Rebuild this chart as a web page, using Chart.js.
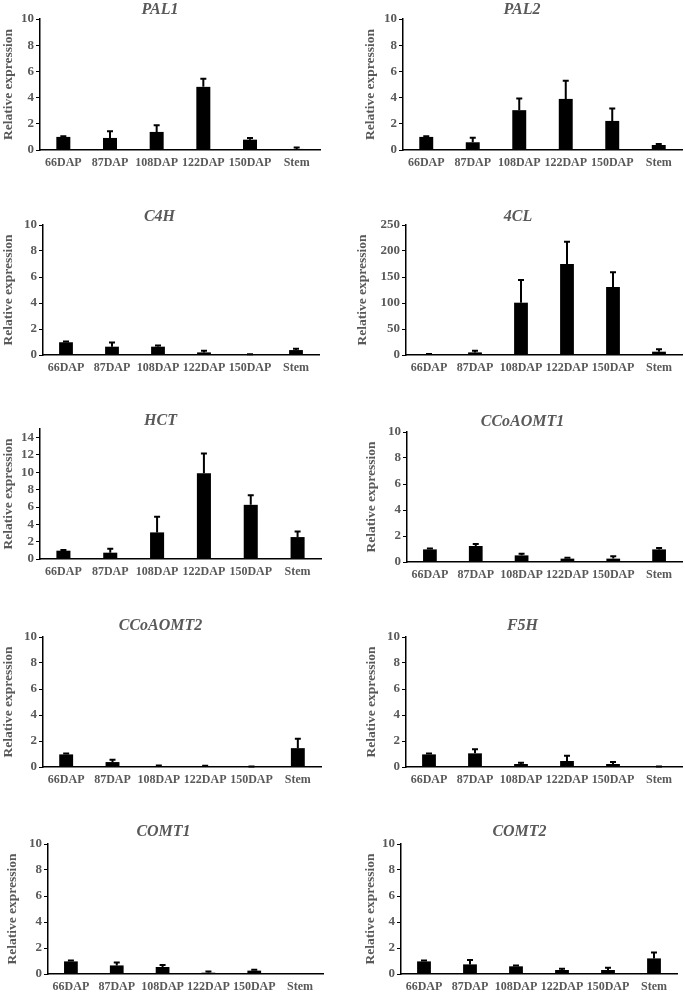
<!DOCTYPE html>
<html>
<head>
<meta charset="utf-8">
<script src="https://cdn.jsdelivr.net/npm/chart.js@4.4.1/dist/chart.umd.min.js"></script>
<style>
html, body { margin: 0; padding: 0; background: #fff; overflow: hidden; }
body { width: 685px; height: 994px; position: relative; }
canvas { position: absolute; }
</style>
</head>
<body>
<script>
// categories
const stages = ['66DAP', '87DAP', '108DAP', '122DAP', '150DAP', 'Stem'];

// means and SD (upper error bar) per gene
const pal1 = [1.0, 0.92, 1.38, 4.82, 0.79, 0.08];
const pal1Sd = [0.05, 0.51, 0.51, 0.61, 0.13, 0.12];
const pal2 = [1.0, 0.59, 3.04, 3.9, 2.22, 0.38];
const pal2Sd = [0.05, 0.35, 0.89, 1.38, 0.94, 0.08];
const c4h = [0.98, 0.64, 0.64, 0.2, 0.02, 0.38];
const c4hSd = [0.05, 0.33, 0.1, 0.13, 0.03, 0.11];
const cl4 = [1, 5, 100.6, 175, 131, 6.4];
const cl4Sd = [1, 3.3, 43.5, 43, 28, 4.6];
const hct = [0.96, 0.73, 3.07, 9.9, 6.25, 2.53];
const hctSd = [0.09, 0.46, 1.8, 2.26, 1.11, 0.65];
const ccoaomt1 = [0.97, 1.23, 0.51, 0.26, 0.26, 0.97];
const ccoaomt1Sd = [0.06, 0.15, 0.13, 0.07, 0.18, 0.11];
const ccoaomt2 = [0.97, 0.38, 0.05, 0.03, 0.01, 1.45];
const ccoaomt2Sd = [0.06, 0.18, 0.07, 0.07, 0.03, 0.72];
const f5h = [0.97, 1.05, 0.23, 0.46, 0.23, 0.02];
const f5hSd = [0.06, 0.31, 0.1, 0.41, 0.15, 0.02];
const comt1 = [0.97, 0.66, 0.54, 0.1, 0.26, 0];
const comt1Sd = [0.06, 0.23, 0.15, 0.1, 0.07, 0];
const comt2 = [0.97, 0.74, 0.59, 0.31, 0.31, 1.2];
const comt2Sd = [0.06, 0.33, 0.07, 0.1, 0.18, 0.46];

// y tick labels
const ticks10 = [0, 2, 4, 6, 8, 10];
const ticks250 = [0, 50, 100, 150, 200, 250];
const ticks14 = [0, 2, 4, 6, 8, 10, 12, 14];

const genes = [
    { name: 'PAL1', data: pal1, sd: pal1Sd, ticks: ticks10, max: 10 },
    { name: 'PAL2', data: pal2, sd: pal2Sd, ticks: ticks10, max: 10 },
    { name: 'C4H', data: c4h, sd: c4hSd, ticks: ticks10, max: 10 },
    { name: '4CL', data: cl4, sd: cl4Sd, ticks: ticks250, max: 250 },
    { name: 'HCT', data: hct, sd: hctSd, ticks: ticks14, max: 15 },
    { name: 'CCoAOMT1', data: ccoaomt1, sd: ccoaomt1Sd, ticks: ticks10, max: 10 },
    { name: 'CCoAOMT2', data: ccoaomt2, sd: ccoaomt2Sd, ticks: ticks10, max: 10 },
    { name: 'F5H', data: f5h, sd: f5hSd, ticks: ticks10, max: 10 },
    { name: 'COMT1', data: comt1, sd: comt1Sd, ticks: ticks10, max: 10 },
    { name: 'COMT2', data: comt2, sd: comt2Sd, ticks: ticks10, max: 10 }
];

// panel placement: y-axis x, plot top, zero line, plot right, title centre, y-axis box width
const panels = [
    { axisX: 40, top: 19, zero: 150, right: 320, titleY: 10, yw: 40 },
    { axisX: 403, top: 19, zero: 149.5, right: 682, titleY: 10, yw: 41 },
    { axisX: 43, top: 225, zero: 355, right: 319, titleY: 217, yw: 43 },
    { axisX: 406, top: 225, zero: 355, right: 682, titleY: 217, yw: 52 },
    { axisX: 40, top: 429, zero: 559, right: 321, titleY: 421, yw: 40 },
    { axisX: 407, top: 432, zero: 562, right: 682, titleY: 422, yw: 44 },
    { axisX: 43, top: 637, zero: 767, right: 321, titleY: 626, yw: 43 },
    { axisX: 406, top: 637, zero: 767, right: 682, titleY: 626, yw: 43 },
    { axisX: 48, top: 844, zero: 974, right: 323, titleY: 832, yw: 44 },
    { axisX: 401, top: 844, zero: 974, right: 677, titleY: 832, yw: 39 }
];

const textColor = '#595959';
const X_AXIS_H = 24;
const TITLE_H = 16;

Chart.defaults.font.family = "'Liberation Serif', 'Times New Roman', serif";
Chart.defaults.font.weight = 'bold';
Chart.defaults.color = textColor;

// upper error bars with a small cap
const errorBars = {
    id: 'errorBars',
    afterDatasetsDraw(chart) {
        const ds = chart.data.datasets[0];
        const meta = chart.getDatasetMeta(0);
        const y = chart.scales.y;
        const ctx = chart.ctx;
        ctx.save();
        ctx.strokeStyle = '#000';
        ctx.lineWidth = 2;
        meta.data.forEach((bar, i) => {
            if (!ds.sd[i]) return;
            const yTop = y.getPixelForValue(ds.data[i] + ds.sd[i]);
            ctx.beginPath();
            ctx.moveTo(bar.x, bar.y);
            ctx.lineTo(bar.x, yTop);
            ctx.moveTo(bar.x - 3, yTop);
            ctx.lineTo(bar.x + 3, yTop);
            ctx.stroke();
        });
        ctx.restore();
    }
};

genes.forEach((g, idx) => {
    const p = panels[idx];
    const left = p.axisX - p.yw;
    const canvasTop = p.titleY - TITLE_H / 2;
    const width = p.right - left + 2;
    const height = p.zero - canvasTop + X_AXIS_H;
    const titleGap = Math.max(0, p.top - canvasTop - TITLE_H);

    const canvas = document.createElement('canvas');
    canvas.width = width;
    canvas.height = Math.round(height);
    canvas.style.left = left + 'px';
    canvas.style.top = canvasTop + 'px';
    document.body.appendChild(canvas);

    new Chart(canvas.getContext('2d'), {
        type: 'bar',
        data: {
            labels: stages,
            datasets: [{
                data: g.data,
                sd: g.sd,
                backgroundColor: '#000',
                borderWidth: 0,
                barPercentage: 0.3,
                categoryPercentage: 1
            }]
        },
        options: {
            responsive: false,
            animation: false,
            devicePixelRatio: 1,
            layout: { padding: { top: 0, left: 0, right: 2, bottom: 0 } },
            plugins: {
                legend: { display: false },
                tooltip: { enabled: false },
                title: {
                    display: true,
                    text: g.name,
                    color: textColor,
                    font: { size: 16, style: 'italic', weight: 'bold', lineHeight: 1 },
                    padding: { top: 0, bottom: titleGap }
                }
            },
            scales: {
                x: {
                    grid: { display: false, drawTicks: false },
                    border: { display: true, color: '#000', width: 1.5 },
                    ticks: {
                        color: textColor,
                        font: { size: 12, weight: 'bold' },
                        padding: 6,
                        autoSkip: false,
                        maxRotation: 0,
                        minRotation: 0
                    },
                    afterFit: (scale) => { scale.height = X_AXIS_H; }
                },
                y: {
                    min: 0,
                    max: g.max,
                    grid: {
                        display: true,
                        drawOnChartArea: false,
                        drawTicks: true,
                        tickLength: 4,
                        color: '#000',
                        lineWidth: 1
                    },
                    border: { display: true, color: '#000', width: 1.5 },
                    ticks: {
                        color: textColor,
                        font: { size: 13, weight: 'bold' },
                        padding: 2,
                        autoSkip: false,
                        includeBounds: false
                    },
                    afterBuildTicks: (scale) => {
                        scale.ticks = g.ticks.map(v => ({ value: v }));
                    },
                    title: {
                        display: true,
                        text: 'Relative expression',
                        color: textColor,
                        font: { size: 13.5, weight: 'bold', lineHeight: 1.2 },
                        padding: { top: 0, bottom: 0 }
                    },
                    afterFit: (scale) => { scale.width = p.yw; }
                }
            }
        },
        plugins: [errorBars]
    });
});
</script>
</body>
</html>
